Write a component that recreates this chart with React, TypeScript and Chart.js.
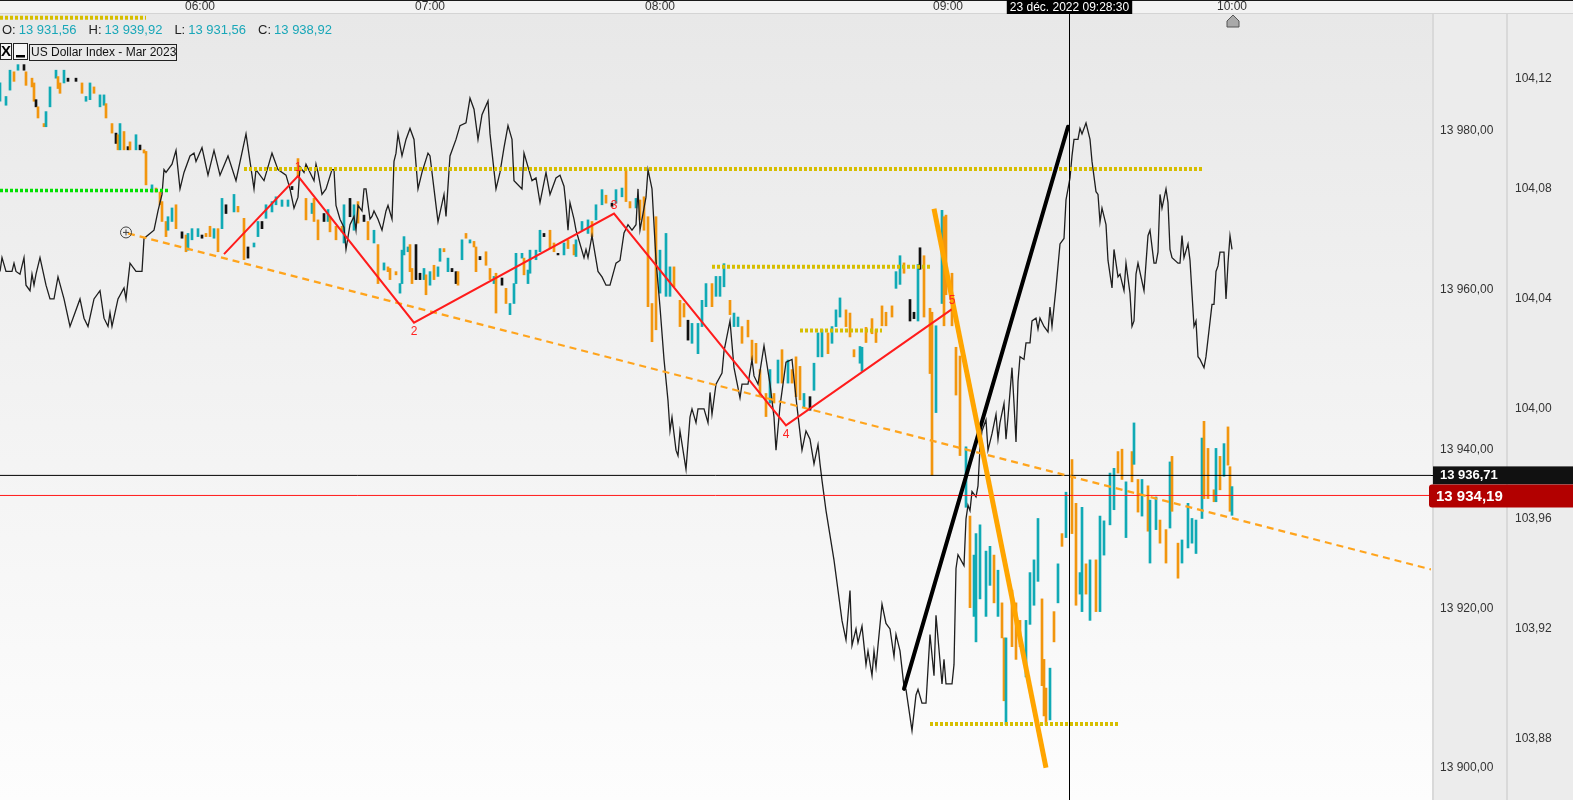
import React, { useEffect, useRef } from 'react';
import { Chart, registerables } from 'chart.js';

Chart.register(...registerables);

// ---------------- data ----------------
const timeTickIndex = [100, 215, 330, 474, 616];
const timeTickLabels = ['06:00', '07:00', '08:00', '09:00', '10:00'];
const priceTicks = [13900, 13920, 13940, 13960, 13980];
const dxyTicks = [103.88, 103.92, 103.96, 104.0, 104.04, 104.08, 104.12];

const X_MIN = 0;
const X_MAX = 715.5;
const PRICE_MIN = 13895.94;
const PRICE_MAX = 13994.66;
const DXY_MIN = 103.8578;
const DXY_MAX = 104.1436;

// bars (future contract): index, low, high, tone (t = up / teal, o = down / orange, k = flat)
const barIndex = [
  0, 3, 5, 7, 9, 12, 13, 16, 17, 18,
  19, 22, 23, 25, 28, 29, 30, 32, 34, 38,
  41, 43, 45, 47, 50, 52, 53, 56, 58, 59,
  60, 62, 64, 65, 68, 70, 72, 73, 76, 78,
  80, 81, 83, 84, 86, 88, 91, 93, 94, 96,
  99, 101, 103, 105, 107, 109, 111, 113, 117, 119,
  122, 124, 127, 129, 131, 133, 136, 138, 141, 144,
  146, 149, 153, 156, 157, 159, 162, 164, 165, 168,
  171, 172, 175, 177, 179, 182, 184, 187, 189, 192,
  194, 195, 198, 200, 201, 202, 204, 205, 206, 208,
  210, 212, 213, 215, 217, 219, 220, 222, 224, 226,
  228, 229, 231, 233, 235, 237, 238, 240, 243, 245,
  247, 248, 251, 253, 255, 257, 258, 261, 262, 264,
  265, 268, 270, 272, 275, 277, 279, 282, 284, 287,
  288, 291, 294, 296, 298, 301, 303, 306, 308, 311,
  313, 315, 318, 320, 322, 324, 326, 328, 330, 333,
  335, 337, 340, 342, 344, 346, 349, 351, 353, 356,
  358, 360, 362, 365, 367, 369, 371, 374, 376, 378,
  380, 383, 385, 387, 389, 391, 394, 396, 398, 400,
  402, 405, 407, 409, 411, 414, 416, 418, 420, 423,
  425, 427, 430,
  431, 433, 436, 438, 441, 443, 446, 448, 450, 452,
  455, 457, 459, 460, 462, 465, 466, 468, 471, 472,
  473, 476, 478, 480, 483, 485, 487, 488, 490, 493,
  495, 497, 499, 501, 502, 503, 506, 508, 510, 513,
  515, 517, 519, 521, 522, 523, 525, 527, 529, 531,
  533, 536, 538, 540, 541, 543, 545, 548, 550, 552,
  555, 557, 559, 561, 563, 566, 567, 569, 571, 574,
  575, 578, 580, 583, 585, 586, 589, 591, 594, 596,
  598, 601, 602, 604, 607, 608, 610, 612, 614, 615,
  616,
];
const barLow = [
  13983.7, 13983.2, 13985.1, 13986.2, 13987.6, 13987.6, 13985.7, 13985.5, 13983.7, 13983.0,
  13981.6, 13980.5, 13980.5, 13983.0, 13986.6, 13985.3, 13984.7, 13986.0, 13986.2, 13986.2,
  13984.7, 13983.7, 13983.9, 13984.7, 13983.0, 13983.2, 13981.6, 13979.7, 13978.4, 13977.6,
  13977.6, 13977.6, 13977.6, 13977.6, 13977.6, 13977.6, 13977.2, 13973.2, 13972.3, 13972.3,
  13970.7, 13968.6, 13966.7, 13967.5, 13968.6, 13967.7, 13966.5, 13964.8, 13965.0, 13966.3,
  13966.7, 13966.5, 13966.7, 13966.7, 13966.5, 13964.8, 13967.7, 13969.6, 13969.8, 13969.8,
  13963.8, 13964.0, 13965.4, 13966.7, 13967.7, 13969.0, 13969.8, 13970.7, 13970.5, 13970.5,
  13972.6, 13974.2, 13968.8, 13969.6, 13968.6, 13966.3, 13968.6, 13968.6, 13967.3, 13966.3,
  13967.3, 13965.9, 13969.2, 13967.5, 13968.4, 13968.6, 13966.3, 13965.9, 13960.8, 13962.5,
  13962.3, 13961.3, 13961.9, 13959.6, 13960.8, 13964.4, 13964.8, 13962.3, 13960.8, 13961.3,
  13961.3, 13961.3, 13959.4, 13960.6, 13961.3, 13961.7, 13963.6, 13964.8, 13962.3, 13962.3,
  13960.8, 13960.6, 13963.8, 13966.5, 13965.9, 13965.4, 13962.3, 13963.8, 13963.1, 13961.3,
  13960.8, 13957.1, 13960.6, 13958.3, 13956.9, 13958.3, 13960.8, 13964.0, 13961.9, 13960.8,
  13962.1, 13963.8, 13964.8, 13966.7, 13965.2, 13964.8, 13964.4, 13964.4, 13965.2, 13964.4,
  13964.2, 13967.5, 13967.1, 13966.7, 13968.8, 13970.7, 13970.9, 13970.5, 13970.9, 13971.7,
  13971.1, 13970.3, 13970.3, 13968.8, 13967.5, 13957.9, 13953.5, 13955.0, 13959.6, 13959.2,
  13959.2, 13960.4, 13955.4, 13956.6, 13953.7, 13953.3, 13952.0, 13955.4, 13957.9, 13957.9,
  13959.2, 13959.2, 13960.4, 13956.9, 13955.4, 13955.4, 13953.3, 13954.1, 13951.2, 13950.8,
  13946.6, 13944.1, 13945.8, 13945.8, 13948.3, 13948.3, 13948.3, 13948.3, 13946.6, 13946.2,
  13945.3, 13944.9, 13947.4, 13951.6, 13951.6, 13952.0, 13953.3, 13955.4, 13956.6, 13955.4,
  13954.1, 13951.6, 13950.8,
  13949.8, 13953.4, 13954.5, 13953.4, 13955.5, 13955.5, 13956.6, 13960.2, 13960.7, 13962.1,
  13956.1, 13956.4, 13956.1, 13962.6, 13956.6, 13949.5, 13936.7, 13944.6, 13958.3, 13955.5,
  13959.4, 13955.5, 13946.8, 13939.2, 13932.7, 13920.1, 13919.0, 13915.8, 13921.2, 13919.0,
  13922.9, 13920.7, 13919.0, 13916.3, 13908.4, 13905.4, 13915.2, 13913.6, 13915.2, 13911.4,
  13918.0, 13920.4, 13923.4, 13910.3, 13906.5, 13905.4, 13906.0, 13915.8, 13920.7, 13927.8,
  13928.9, 13929.4, 13920.4, 13921.8, 13919.6, 13921.8, 13918.5, 13919.6, 13919.6, 13926.7,
  13930.5, 13932.4, 13937.0, 13936.2, 13928.9, 13935.9, 13938.1, 13932.1, 13931.6, 13929.7,
  13925.7, 13929.9, 13928.2, 13925.7, 13930.1, 13932.2, 13923.8, 13925.7, 13927.6, 13928.2,
  13926.9, 13931.3, 13933.8, 13933.8, 13933.4, 13933.4, 13934.9, 13936.6, 13938.0, 13932.2,
  13931.7,
];
const barHigh = [
  13986.0, 13984.3, 13987.6, 13987.4, 13988.3, 13988.3, 13987.4, 13986.6, 13986.0, 13983.9,
  13983.0, 13980.9, 13982.4, 13985.5, 13987.6, 13986.8, 13986.0, 13987.6, 13986.6, 13986.6,
  13986.0, 13984.3, 13986.0, 13985.5, 13984.5, 13984.5, 13983.4, 13980.9, 13979.7, 13979.5,
  13980.9, 13979.9, 13978.0, 13978.6, 13979.5, 13978.2, 13977.6, 13977.4, 13973.2, 13972.8,
  13972.3, 13971.1, 13968.6, 13969.2, 13970.3, 13970.7, 13967.3, 13966.9, 13967.1, 13967.7,
  13967.7, 13966.9, 13967.1, 13968.0, 13967.7, 13967.7, 13971.5, 13970.7, 13972.0, 13970.5,
  13969.0, 13965.4, 13965.9, 13968.6, 13968.6, 13970.7, 13971.1, 13971.7, 13971.3, 13971.3,
  13973.0, 13976.5, 13971.5, 13970.9, 13971.5, 13968.8, 13969.6, 13970.1, 13969.2, 13968.0,
  13968.0, 13970.7, 13971.5, 13970.7, 13971.1, 13969.4, 13968.6, 13967.5, 13965.7, 13963.4,
  13962.9, 13962.7, 13962.3, 13960.8, 13965.0, 13966.7, 13965.4, 13965.7, 13962.7, 13965.7,
  13962.1, 13962.7, 13961.9, 13962.3, 13963.1, 13962.9, 13965.2, 13965.2, 13964.0, 13962.7,
  13962.3, 13962.3, 13966.3, 13967.1, 13966.3, 13966.1, 13965.4, 13964.2, 13964.8, 13962.7,
  13961.7, 13962.1, 13961.5, 13960.2, 13958.3, 13960.8, 13964.6, 13964.6, 13964.0, 13962.5,
  13965.0, 13965.0, 13967.5, 13967.1, 13967.5, 13965.9, 13964.6, 13965.9, 13966.3, 13965.7,
  13966.3, 13968.6, 13968.8, 13968.6, 13970.7, 13972.6, 13971.9, 13970.9, 13972.6, 13972.8,
  13975.1, 13971.1, 13971.5, 13971.3, 13971.7, 13969.2, 13958.3, 13969.2, 13965.0, 13967.1,
  13962.9, 13962.9, 13958.7, 13958.3, 13956.2, 13955.8, 13955.8, 13958.7, 13960.8, 13960.8,
  13961.7, 13961.7, 13963.3, 13958.7, 13957.1, 13956.6, 13955.4, 13956.2, 13953.7, 13953.3,
  13950.0, 13947.0, 13950.0, 13947.0, 13951.2, 13952.5, 13951.2, 13950.0, 13951.6, 13950.4,
  13947.0, 13946.6, 13950.8, 13954.6, 13955.0, 13954.6, 13955.4, 13957.5, 13959.0, 13957.5,
  13957.1, 13952.5, 13952.9,
  13952.8, 13955.3, 13956.4, 13955.0, 13958.0, 13957.2, 13958.0, 13962.3, 13964.3, 13963.4,
  13958.8, 13957.2, 13963.2, 13965.3, 13964.3, 13957.7, 13957.2, 13955.5, 13970.0, 13969.2,
  13969.4, 13962.1, 13952.8, 13951.7, 13940.3, 13931.6, 13926.7, 13929.4, 13930.5, 13927.2,
  13927.8, 13926.7, 13924.8, 13920.7, 13916.3, 13916.3, 13922.3, 13920.7, 13918.5, 13918.5,
  13924.5, 13926.1, 13931.3, 13921.2, 13913.6, 13910.0, 13912.5, 13919.6, 13925.6, 13929.4,
  13934.6, 13938.7, 13933.2, 13924.5, 13932.7, 13925.6, 13926.1, 13926.1, 13931.6, 13931.0,
  13937.0, 13937.6, 13939.7, 13940.0, 13935.9, 13939.7, 13943.3, 13936.2, 13936.2, 13935.4,
  13933.6, 13934.0, 13931.1, 13929.9, 13938.4, 13939.1, 13928.2, 13928.6, 13933.2, 13931.3,
  13931.1, 13941.4, 13943.5, 13940.1, 13934.9, 13940.1, 13939.1, 13940.7, 13942.8, 13937.8,
  13935.3,
];
const barTone =
  'tttotkoook' + 'ootttootkk' + 'ottottooko' + 'tokotkooto' + 'ooottokott' + 'tkoototkto' + 'okttkttttt' +
  'kootooktoo' + 'otktokotot' + 'ooottttook' + 'ktotottotk' + 'kototookoo' + 'tokottttot' + 'tttkooktoo' +
  'tttottoktt' + 'ootooooott' + 'toooktttto' + 'tttottoooo' + 'ootototooo' + 'tktttottto' + 'oot' +
  'tooooootto' + 'kktkoootto' + 'oooototttt' + 'totootooot' + 'tttooototo' + 'toottotott' + 'ttootototo' +
  'ttootoottt' + 'ttooototoo' + 't';

// US Dollar Index (right scale)
const dxyIndex = [
  0, 1, 3, 6, 7, 8, 10, 12, 13, 15, 16, 17, 18, 20, 23, 25, 27, 29, 32, 35,
  37, 40, 42, 44, 47, 50, 52, 54, 55, 56, 59, 62, 63, 65, 68, 71, 72, 77, 79, 81,
  82, 83, 86, 88, 90, 92, 95, 97, 98, 101, 104, 107, 110, 114, 118, 123, 127, 128, 132, 136,
  139, 143, 145, 147, 149, 150, 152, 153, 155, 157, 158, 159, 161, 163, 166, 167, 168, 170, 172, 173,
  175, 177, 178, 179, 181, 182, 183, 185, 186, 187, 189, 191, 193, 194, 196, 197, 198, 199, 201, 203,
  205, 207, 209, 211, 214, 215, 217, 219, 222, 223, 225, 228, 230, 233, 235, 237, 239, 241, 244, 245,
  248, 250, 252, 254, 256, 257, 261, 262, 266, 268, 270, 273, 275, 278, 280, 282, 283, 284, 285, 287,
  288, 292, 293, 294, 296, 299, 301, 303, 305, 308, 310, 312, 314, 316, 318, 319, 320, 323, 324, 326,
  328, 330, 332, 334, 335, 336, 338, 339, 340, 343, 345, 346, 348, 349, 352, 354, 355, 356, 358, 361,
  362, 365, 367, 370, 371, 374, 376, 377, 379, 382, 385, 387, 388, 390, 393, 396, 398, 401, 403, 405,
  407, 409, 410, 411, 413, 415, 417, 419, 421, 423, 425, 426, 428, 429, 431, 433, 434, 436, 437, 438,
  439, 441, 443, 445, 447, 448, 450, 452, 453, 456, 458, 459, 461, 463, 465, 467, 468, 471, 472, 473,
  476, 477, 478, 479, 482, 483, 484, 485, 486, 488, 489, 490, 491, 493, 494, 496, 498, 499, 500, 502,
  503, 504, 506, 507, 508, 509, 510, 512, 513, 515, 516, 518, 519, 520, 522, 524, 525, 526, 528, 530,
  532, 533, 535, 536, 537, 539, 540, 541, 543, 545, 546, 548, 549, 550, 551, 553, 554, 556, 557, 559,
  560, 562, 563, 565, 566, 567, 568, 569, 572, 573, 574, 575, 577, 578, 579, 580, 581, 583, 584, 585,
  586, 589, 590, 591, 592, 594, 595, 597, 598, 599, 600, 602, 603, 606, 607, 608, 609, 610, 612, 613,
  614, 615, 616,
];
const dxyValue = [
  104.05, 104.055, 104.05, 104.05, 104.053, 104.05, 104.049, 104.055, 104.045, 104.043, 104.049, 104.045, 104.049, 104.055, 104.045, 104.04, 104.04, 104.048, 104.04, 104.03,
  104.034, 104.04, 104.033, 104.03, 104.04, 104.043, 104.033, 104.03, 104.035, 104.03, 104.04, 104.044, 104.04, 104.053, 104.05, 104.05, 104.062, 104.065, 104.072, 104.078,
  104.087, 104.086, 104.089, 104.094, 104.08, 104.086, 104.092, 104.093, 104.09, 104.095, 104.085, 104.094, 104.085, 104.092, 104.083, 104.1, 104.08, 104.087, 104.083, 104.093,
  104.087, 104.085, 104.08, 104.073, 104.077, 104.088, 104.086, 104.089, 104.086, 104.083, 104.089, 104.086, 104.078, 104.08, 104.087, 104.087, 104.074, 104.069, 104.066, 104.058,
  104.067, 104.07, 104.065, 104.074, 104.072, 104.08, 104.08, 104.069, 104.07, 104.072, 104.069, 104.065, 104.072, 104.074, 104.069, 104.09, 104.093, 104.1, 104.092, 104.098,
  104.102, 104.098, 104.08, 104.086, 104.093, 104.092, 104.08, 104.068, 104.078, 104.07, 104.092, 104.098, 104.103, 104.104, 104.113, 104.109, 104.098, 104.107, 104.112, 104.1,
  104.08, 104.086, 104.095, 104.103, 104.098, 104.083, 104.08, 104.093, 104.083, 104.084, 104.075, 104.086, 104.078, 104.084, 104.085, 104.081, 104.074, 104.065, 104.075, 104.069,
  104.065, 104.055, 104.058, 104.055, 104.063, 104.05, 104.048, 104.045, 104.045, 104.053, 104.054, 104.064, 104.067, 104.065, 104.067, 104.08, 104.065, 104.077, 104.087, 104.08,
  104.054, 104.037, 104.018, 104.003, 103.992, 103.997, 103.985, 103.983, 103.992, 103.978, 103.997, 104.0, 103.995, 104.0, 104.0, 103.995, 104.006, 103.998, 104.009, 104.013,
  104.021, 104.032, 104.015, 104.004, 104.009, 104.009, 104.018, 104.012, 104.009, 104.023, 104.009, 103.997, 103.985, 104.001, 104.017, 104.018, 104.004, 103.985, 103.992, 103.989,
  103.98, 103.987, 103.98, 103.974, 103.963, 103.954, 103.945, 103.934, 103.923, 103.916, 103.934, 103.914, 103.92, 103.915, 103.921, 103.907, 103.912, 103.903, 103.912, 103.906,
  103.914, 103.929, 103.922, 103.92, 103.91, 103.918, 103.912, 103.899, 103.898, 103.883, 103.896, 103.898, 103.893, 103.893, 103.918, 103.903, 103.925, 103.9, 103.909, 103.9,
  103.9, 103.907, 103.942, 103.947, 103.943, 103.96, 103.965, 103.963, 103.97, 103.968, 103.972, 103.986, 103.992, 103.996, 103.985, 103.991, 103.998, 103.989, 103.995, 104.002,
  103.989, 103.997, 104.015, 104.002, 103.988, 104.01, 104.019, 104.018, 104.024, 104.024, 104.032, 104.033, 104.029, 104.033, 104.03, 104.028, 104.037, 104.03, 104.044, 104.06,
  104.062, 104.076, 104.084, 104.092, 104.098, 104.098, 104.102, 104.1, 104.104, 104.098, 104.09, 104.079, 104.078, 104.068, 104.073, 104.067, 104.054, 104.044, 104.058, 104.048,
  104.049, 104.043, 104.053, 104.042, 104.03, 104.032, 104.049, 104.053, 104.043, 104.053, 104.063, 104.065, 104.053, 104.053, 104.057, 104.078, 104.073, 104.08, 104.075, 104.058,
  104.055, 104.053, 104.053, 104.063, 104.055, 104.06, 104.054, 104.03, 104.032, 104.019, 104.018, 104.015, 104.019, 104.038, 104.038, 104.05, 104.052, 104.057, 104.057, 104.04,
  104.053, 104.063, 104.058,
];

// drawings
const zigzagIndex = [112, 149, 207, 307, 393, 476];
const zigzagPrice = [13964.5, 13974.3, 13955.9, 13969.6, 13943.0, 13957.6];
const zigzagLabels = ['', '1', '2', '3', '4', '5'];
const zigzagLabelBelow = [false, false, true, false, true, false];

const trendIndex = [64, 715.5];
const trendPrice = [13967.1, 13924.9];
const upLegIndex = [452, 534];
const upLegPrice = [13909.9, 13980.5];
const downLegIndex = [467, 523];
const downLegPrice = [13970.2, 13900.0];

const levelFrom = [0, 122, 356, 400, 465];
const levelTo = [73, 601, 465, 441, 560];
const levelPrice = [13994.2, 13975.2, 13962.9, 13954.9, 13905.5];
const supportFrom = 0;
const supportTo = 84;
const supportPrice = 13972.5;

const lastPrice = 13936.71;
const markPrice = 13934.19;
const cursorIndex = 534.7;
const cursorLabel = '23 déc. 2022 09:28:30';
const sessionMarkerIndex = 616.5;
const ohlcLabels = ['O:', 'H:', 'L:', 'C:'];
const ohlcValues = [13931.56, 13939.92, 13931.56, 13938.92];
const instrumentTitle = 'US Dollar Index - Mar 2023';

// ---------------- helpers ----------------
const FONT = '"Liberation Sans", Arial, sans-serif';
const TEAL = '#10aab5';
const ORANGE = '#f2960e';

function fmtPrice(v: number): string {
  const [i, d] = v.toFixed(2).split('.');
  return i.replace(/\B(?=(\d{3})+(?!\d))/g, ' ') + ',' + d;
}
function fmtDxy(v: number): string {
  return v.toFixed(2).replace('.', ',');
}

const decorPlugin = {
  id: 'decor',
  beforeDraw(chart: any) {
    const { ctx, chartArea: ca, width, height } = chart;
    const ys = chart.scales.y;
    const y2s = chart.scales.y2;
    ctx.save();
    ctx.fillStyle = '#ececec';
    ctx.fillRect(0, 0, width, height);
    const g = ctx.createLinearGradient(0, ca.top, 0, ca.bottom);
    g.addColorStop(0, '#e8e8e8');
    g.addColorStop(1, '#fdfdfd');
    ctx.fillStyle = g;
    ctx.fillRect(0, ca.top, ca.right + 1, ca.bottom - ca.top);
    ctx.fillStyle = '#f3f3f3';
    ctx.fillRect(0, 0, width, ca.top);
    ctx.fillStyle = '#1a1a1a';
    ctx.fillRect(0, 0, width, 1);
    ctx.fillStyle = '#d4d4d4';
    ctx.fillRect(0, ca.top - 1, width, 1);
    ctx.fillStyle = '#d9d9d9';
    ctx.fillRect(ys.left + 1, ca.top, 2, height - ca.top);
    ctx.fillRect(y2s.left, ca.top, 2, height - ca.top);
    ctx.restore();
  },
  afterDraw(chart: any) {
    const { ctx, chartArea: ca, width } = chart;
    const xs = chart.scales.x;
    const ys = chart.scales.y;
    ctx.save();

    // price badges
    const yLast = ys.getPixelForValue(lastPrice);
    const yMark = ys.getPixelForValue(markPrice);
    ctx.fillStyle = '#000';
    ctx.fillRect(ca.right, Math.round(yLast), ys.left + 2 - ca.right, 1);
    ctx.fillStyle = '#ff1a1a';
    ctx.fillRect(ca.right, Math.round(yMark), ys.left - ca.right, 1);

    ctx.fillStyle = '#111';
    ctx.fillRect(ys.left + 2, yLast - 9, width - ys.left - 2, 18);
    ctx.fillStyle = '#fff';
    ctx.font = 'bold 13px ' + FONT;
    ctx.textBaseline = 'middle';
    ctx.textAlign = 'left';
    ctx.fillText(fmtPrice(lastPrice), ys.left + 9, yLast + 0.5);

    ctx.fillStyle = '#b20000';
    ctx.beginPath();
    (ctx as any).roundRect(ys.left - 2, yMark - 11, width - ys.left + 6, 23, 3);
    ctx.fill();
    ctx.fillStyle = '#fff';
    ctx.font = 'bold 15px ' + FONT;
    ctx.fillText(fmtPrice(markPrice), ys.left + 5, yMark + 1);

    // cursor
    const cx = Math.round(xs.getPixelForValue(cursorIndex)) + 0.5;
    ctx.strokeStyle = '#000';
    ctx.lineWidth = 1;
    ctx.beginPath();
    ctx.moveTo(cx, 0);
    ctx.lineTo(cx, ca.bottom);
    ctx.stroke();
    ctx.font = '12px ' + FONT;
    const tw = ctx.measureText(cursorLabel).width;
    ctx.fillStyle = '#000';
    ctx.fillRect(cx - tw / 2 - 3, 0, tw + 6, ca.top);
    ctx.fillStyle = '#fff';
    ctx.textAlign = 'center';
    ctx.fillText(cursorLabel, cx, ca.top / 2 + 0.5);

    // session marker
    const mx = xs.getPixelForValue(sessionMarkerIndex);
    ctx.beginPath();
    ctx.moveTo(mx - 6, ca.top + 13);
    ctx.lineTo(mx - 6, ca.top + 7);
    ctx.lineTo(mx, ca.top + 1);
    ctx.lineTo(mx + 6, ca.top + 7);
    ctx.lineTo(mx + 6, ca.top + 13);
    ctx.closePath();
    ctx.fillStyle = '#a9a9a9';
    ctx.fill();
    ctx.strokeStyle = '#555';
    ctx.stroke();

    // zigzag labels
    ctx.font = '12px ' + FONT;
    ctx.fillStyle = '#ff2222';
    ctx.textAlign = 'center';
    zigzagLabels.forEach((lab, i) => {
      if (!lab) return;
      const px = xs.getPixelForValue(zigzagIndex[i]);
      const py = ys.getPixelForValue(zigzagPrice[i]);
      if (zigzagLabelBelow[i]) {
        ctx.textBaseline = 'top';
        ctx.fillText(lab, px, py + 3);
      } else {
        ctx.textBaseline = 'bottom';
        ctx.fillText(lab, px, py - 2);
      }
    });

    // anchor circle
    const ax = xs.getPixelForValue(trendIndex[0]) - 2;
    const ay = ys.getPixelForValue(trendPrice[0]) - 1;
    ctx.strokeStyle = '#444';
    ctx.lineWidth = 1;
    ctx.beginPath();
    ctx.arc(ax, ay, 5.5, 0, Math.PI * 2);
    ctx.stroke();
    ctx.beginPath();
    ctx.moveTo(ax - 3, ay);
    ctx.lineTo(ax + 3, ay);
    ctx.moveTo(ax, ay - 3);
    ctx.lineTo(ax, ay + 3);
    ctx.stroke();

    // header OHLC
    ctx.textAlign = 'left';
    ctx.textBaseline = 'middle';
    ctx.font = '13px ' + FONT;
    let hx = 2;
    ohlcLabels.forEach((lab, i) => {
      ctx.fillStyle = '#222';
      ctx.fillText(lab, hx, 30);
      hx += ctx.measureText(lab).width + 3;
      const val = fmtPrice(ohlcValues[i]);
      ctx.fillStyle = '#19a7b8';
      ctx.fillText(val, hx, 30);
      hx += ctx.measureText(val).width + 12;
    });

    // title buttons
    ctx.strokeStyle = '#222';
    ctx.lineWidth = 1;
    ctx.fillStyle = '#f6f6f6';
    ctx.fillRect(0.5, 43.5, 11, 16);
    ctx.strokeRect(0.5, 43.5, 11, 16);
    ctx.fillRect(13.5, 43.5, 14, 16);
    ctx.strokeRect(13.5, 43.5, 14, 16);
    ctx.strokeRect(29.5, 44.5, 147, 16);
    ctx.fillStyle = '#000';
    ctx.font = 'bold 15px ' + FONT;
    ctx.textAlign = 'center';
    ctx.fillText('X', 6, 52);
    ctx.fillRect(16, 55, 9, 2.5);
    ctx.font = '12px ' + FONT;
    ctx.textAlign = 'left';
    ctx.fillStyle = '#111';
    ctx.fillText(instrumentTitle, 31, 53);

    ctx.restore();
  },
};

function flatLine(from: number, to: number, price: number) {
  return [
    { x: from, y: price },
    { x: to, y: price },
  ];
}

function noPad(s: any) {
  s.paddingTop = 0;
  s.paddingBottom = 0;
  s.paddingLeft = 0;
  s.paddingRight = 0;
}

export default function App() {
  const canvasRef = useRef<HTMLCanvasElement | null>(null);

  useEffect(() => {
    document.body.style.margin = '0';
    const canvas = canvasRef.current;
    if (!canvas) return;

    const n = Math.min(barIndex.length, barLow.length, barHigh.length);
    const barData = [] as any[];
    const barColors = [] as string[];
    for (let i = 0; i < n; i++) {
      barData.push({ x: barIndex[i], y: [barLow[i], barHigh[i]] });
      const t = barTone[i] || 't';
      barColors.push(t === 'o' ? ORANGE : t === 'k' ? '#111111' : TEAL);
    }
    const dn = Math.min(dxyIndex.length, dxyValue.length);
    const dxyData = [] as any[];
    for (let i = 0; i < dn; i++) dxyData.push({ x: dxyIndex[i], y: dxyValue[i] });

    const lineBase = { type: 'line', pointRadius: 0, yAxisID: 'y', xAxisID: 'x', fill: false, tension: 0 };

    const datasets: any[] = [
      {
        type: 'bar',
        label: 'bars',
        data: barData,
        backgroundColor: barColors,
        barThickness: 2,
        borderWidth: 0,
        grouped: false,
        yAxisID: 'y',
        xAxisID: 'x',
        order: 20,
      },
      {
        ...lineBase,
        label: 'dxy',
        data: dxyData,
        yAxisID: 'y2',
        borderColor: '#1e1e1e',
        borderWidth: 1.3,
        order: 15,
      },
      {
        ...lineBase,
        label: 'last',
        data: flatLine(X_MIN, X_MAX, lastPrice),
        borderColor: '#000',
        borderWidth: 1,
        order: 14,
      },
      {
        ...lineBase,
        label: 'mark',
        data: flatLine(X_MIN, X_MAX, markPrice),
        borderColor: '#ff1a1a',
        borderWidth: 1,
        order: 13,
      },
      {
        ...lineBase,
        label: 'support',
        data: flatLine(supportFrom, supportTo, supportPrice),
        borderColor: '#00e000',
        borderWidth: 3.5,
        borderDash: [3, 2],
        order: 12,
      },
      ...levelPrice.map((p, i) => ({
        ...lineBase,
        label: 'level' + i,
        data: flatLine(levelFrom[i], levelTo[i], p),
        borderColor: '#d6be00',
        borderWidth: 4,
        borderDash: [3, 2],
        order: 11,
      })),
      {
        ...lineBase,
        label: 'trend',
        data: trendIndex.map((x, i) => ({ x, y: trendPrice[i] })),
        borderColor: '#ffa41c',
        borderWidth: 2.2,
        borderDash: [7, 5],
        order: 8,
      },
      {
        ...lineBase,
        label: 'zigzag',
        data: zigzagIndex.map((x, i) => ({ x, y: zigzagPrice[i] })),
        borderColor: '#ff1c1c',
        borderWidth: 2,
        order: 6,
      },
      {
        ...lineBase,
        label: 'upLeg',
        data: upLegIndex.map((x, i) => ({ x, y: upLegPrice[i] })),
        borderColor: '#000',
        borderWidth: 4,
        borderCapStyle: 'round',
        order: 4,
      },
      {
        ...lineBase,
        label: 'downLeg',
        data: downLegIndex.map((x, i) => ({ x, y: downLegPrice[i] })),
        borderColor: '#ffa500',
        borderWidth: 5,
        order: 2,
      },
    ];

    const chart = new Chart(canvas, {
      type: 'bar',
      data: { datasets },
      options: {
        responsive: false,
        animation: false,
        devicePixelRatio: 1,
        layout: { padding: 0 },
        plugins: { legend: { display: false }, tooltip: { enabled: false } },
        events: [],
        scales: {
          x: {
            type: 'linear',
            position: 'top',
            min: X_MIN,
            max: X_MAX,
            offset: false,
            grid: { display: false, drawTicks: false },
            border: { display: false },
            afterBuildTicks: (s: any) => {
              s.ticks = timeTickIndex.map((v) => ({ value: v }));
            },
            afterFit: (s: any) => {
              s.height = 14;
              noPad(s);
            },
            ticks: {
              autoSkip: false,
              maxRotation: 0,
              padding: 0,
              color: '#333',
              font: { family: FONT, size: 12 },
              callback: (_v: any, i: number) => timeTickLabels[i],
            },
          },
          y: {
            type: 'linear',
            position: 'right',
            weight: 1,
            min: PRICE_MIN,
            max: PRICE_MAX,
            grid: { display: false, drawTicks: false },
            border: { display: false },
            afterBuildTicks: (s: any) => {
              s.ticks = priceTicks.map((v) => ({ value: v }));
            },
            afterFit: (s: any) => {
              s.width = 75;
              noPad(s);
            },
            ticks: {
              padding: 9,
              color: '#333',
              font: { family: FONT, size: 12 },
              callback: (v: any) => fmtPrice(Number(v)),
            },
          },
          y2: {
            type: 'linear',
            position: 'right',
            weight: 2,
            min: DXY_MIN,
            max: DXY_MAX,
            grid: { display: false, drawTicks: false },
            border: { display: false },
            afterBuildTicks: (s: any) => {
              s.ticks = dxyTicks.map((v) => ({ value: v }));
            },
            afterFit: (s: any) => {
              s.width = 67;
              noPad(s);
            },
            ticks: {
              padding: 9,
              color: '#333',
              font: { family: FONT, size: 12 },
              callback: (v: any) => fmtDxy(Number(v)),
            },
          },
        },
      } as any,
      plugins: [decorPlugin as any],
    });

    return () => {
      chart.destroy();
    };
  }, []);

  return (
    <canvas
      ref={canvasRef}
      width={1573}
      height={800}
      style={{ display: 'block', width: '1573px', height: '800px' }}
    />
  );
}
